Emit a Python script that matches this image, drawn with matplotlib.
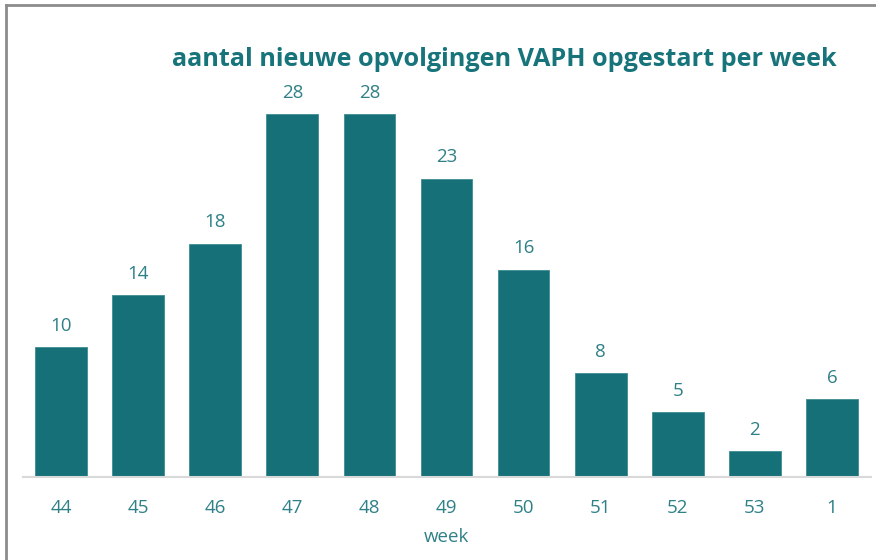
import matplotlib.pyplot as plt
from matplotlib.lines import Line2D

weeks = ["44", "45", "46", "47", "48", "49", "50", "51", "52", "53", "1"]
counts = [10, 14, 18, 28, 28, 23, 16, 8, 5, 2, 6]

bar_color = "#157177"
text_color = "#2F8087"
title_color = "#17747A"

plt.rcParams['font.family'] = ['Open Sans', 'DejaVu Sans']

fig = plt.figure(figsize=(8.76, 5.6), dpi=100)
ax = fig.add_axes([22.5 / 876, 1 - 477 / 560, 848 / 876, 415 / 560])

x = range(len(weeks))
ax.bar(x, counts, width=0.67, color=bar_color, edgecolor="#3E8C92", linewidth=0.6)
for a, b in zip(x, counts):
    ax.text(a, b + 0.95, str(b), ha="center", va="bottom", fontsize=13.5, color=text_color)

ax.set_xlim(-0.5, len(weeks) - 0.5)
ax.set_ylim(0, 32)
ax.set_xticks(list(x))
ax.set_xticklabels(weeks, fontsize=13.5, color=text_color)
ax.tick_params(axis="x", length=0, pad=16)
ax.set_yticks([])
for s in ["top", "right", "left"]:
    ax.spines[s].set_visible(False)
ax.spines["bottom"].set_color("#D9D9D9")
ax.spines["bottom"].set_linewidth(1.5)
ax.set_xlabel("week", fontsize=13.5, color=text_color, labelpad=8)

fig.text(504 / 876, 1 - 60 / 560, "aantal nieuwe opvolgingen VAPH opgestart per week",
         ha="center", va="center", fontsize=18.2, fontweight="bold", color=title_color)

# chart frame (left and top edges visible)
fig.add_artist(Line2D([6 / 876, 6 / 876], [0, 1 - 5 / 560], color="#8C8C8C", linewidth=2,
                      transform=fig.transFigure))
fig.add_artist(Line2D([6 / 876, 1], [1 - 5 / 560, 1 - 5 / 560], color="#8C8C8C", linewidth=2,
                      transform=fig.transFigure))

fig.savefig("out.png", dpi=100)
